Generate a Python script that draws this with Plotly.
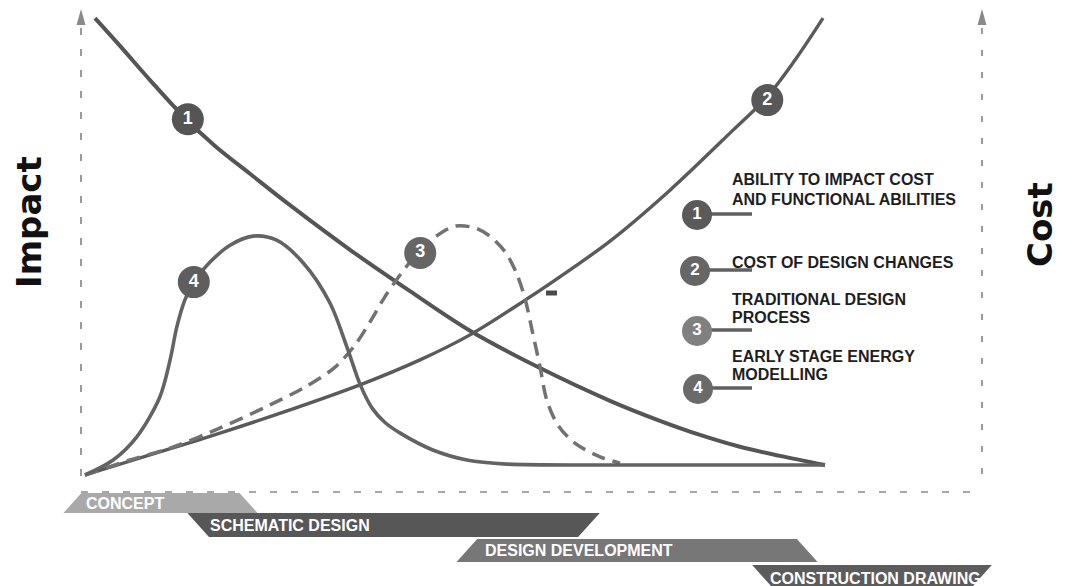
import plotly.graph_objects as go

# ---------------- data (x: project timeline 0-100, y: relative level 0-100) ----------------
x_ability = [1.35, 4.73, 8.78, 13.24, 17.57, 22.30, 27.70, 35.81, 43.92, 52.03, 61.49, 70.95,
             77.70, 83.11, 88.51, 93.92, 100]
y_ability = [100.4, 94.3, 86.8, 78.9, 72.3, 66.2, 59.3, 49.5, 40.4, 31.7, 23.5, 16.3,
             11.9, 8.8, 6.2, 4.2, 2.2]

x_cost = [0, 8.78, 18.24, 27.70, 37.16, 45.27, 52.03, 59.73, 65.54, 70.95, 79.05, 87.57, 92.16, 95.95, 99.73]
y_cost = [0, 4.4, 9.2, 14.3, 19.8, 25.3, 30.8, 38.7, 45.1, 51.4, 62.6, 75.8, 83.1, 91.2, 100.4]

x_trad = [0, 6.1, 11.5, 18.2, 25.0, 29.7, 33.8, 36.5, 38.5, 40.5, 42.6, 45.3, 47.3, 50.0, 52.7,
          54.7, 56.8, 58.4, 59.5, 60.5, 61.5, 62.4, 63.9, 66.2, 69.6, 72.3]
y_trad = [0, 3.3, 5.9, 10.3, 15.4, 19.3, 23.7, 28.6, 33.6, 39.1, 44.0, 49.5, 52.3, 54.7, 54.3,
          52.5, 49.0, 44.0, 38.5, 31.2, 23.7, 16.5, 11.0, 7.0, 4.0, 2.6]

x_early = [0, 3.8, 7.0, 10.1, 11.5, 12.4, 13.5, 14.9, 16.9, 19.6, 22.7, 25.9, 29.5, 33.1, 35.4,
           37.2, 38.8, 40.5, 42.6, 47.0, 51.6, 57.0, 69.6, 83.1, 100]
y_early = [0, 3.3, 8.4, 17.1, 25.3, 32.5, 38.5, 42.9, 46.8, 50.5, 52.5, 51.6, 46.6, 37.8, 28.1,
           19.8, 14.7, 11.6, 9.2, 5.5, 3.3, 2.4, 2.2, 2.2, 2.2]

badge_numbers = ["1", "2", "3", "4"]
badge_x = [13.9, 92.2, 45.3, 14.7]
badge_y = [78.2, 82.4, 48.8, 42.4]

legend_lines = [["ABILITY TO IMPACT COST", "AND FUNCTIONAL ABILITIES"],
                ["COST OF DESIGN CHANGES"],
                ["TRADITIONAL DESIGN", "PROCESS"],
                ["EARLY STAGE ENERGY", "MODELLING"]]

phases = ["CONCEPT", "SCHEMATIC DESIGN", "DESIGN DEVELOPMENT", "CONSTRUCTION DRAWING"]
phase_start = [-1.7, 15.3, 51.6, 91.8]
phase_end = [22.1, 68.1, 97.6, 120.9]

# ---------------- geometry helpers (pixel <-> data) ----------------
W, H = 1068, 586
PX0, SX = 85.0, 7.4     # px of x=0, px per unit
PY0, SY = 475.0, 4.55   # px of y=0, px per unit


def X(px):
    return (px - PX0) / SX


def Y(py):
    return (PY0 - py) / SY


def DX(d):
    return d / SX


fig = go.Figure()

fig.add_trace(go.Scatter(x=x_ability, y=y_ability, mode="lines",
                         line=dict(color="#555555", width=4, shape="spline", smoothing=1.0),
                         hoverinfo="skip"))
fig.add_trace(go.Scatter(x=x_cost, y=y_cost, mode="lines",
                         line=dict(color="#5a5a5a", width=3.4, shape="spline", smoothing=1.0),
                         hoverinfo="skip"))
fig.add_trace(go.Scatter(x=x_trad, y=y_trad, mode="lines",
                         line=dict(color="#727272", width=3.5, dash="14px,8px", shape="spline", smoothing=0.9),
                         hoverinfo="skip"))
fig.add_trace(go.Scatter(x=x_early, y=y_early, mode="lines",
                         line=dict(color="#636363", width=3.6, shape="spline", smoothing=0.9),
                         hoverinfo="skip"))

# badges on the curves
badge_cols = ["#555555", "#585858", "#666666", "#5e5e5e"]
fig.add_trace(go.Scatter(x=badge_x, y=badge_y, mode="markers+text", text=badge_numbers,
                         textposition="middle center",
                         textfont=dict(family="Liberation Sans", size=18, color="white", weight="bold"),
                         marker=dict(size=32, color=badge_cols, line=dict(width=0)),
                         hoverinfo="skip"))

# legend block
leg_cx = [697, 695, 697, 698]
leg_cy = [215, 271, 331, 389]
leg_cols = ["#5a5a5a", "#666666", "#808080", "#6a6a6a"]
leg_text_y = [[179, 199], [262.5], [299, 317.5], [356, 374]]
shapes = []
annotations = []
for i in range(4):
    shapes.append(dict(type="line", xref="x", yref="y", x0=X(leg_cx[i]), x1=X(752),
                       y0=Y(leg_cy[i] - 1), y1=Y(leg_cy[i] - 1),
                       line=dict(color="#606060", width=3.5), layer="below"))
    for j, t in enumerate(legend_lines[i]):
        annotations.append(dict(x=X(730), y=Y(leg_text_y[i][j]), xref="x", yref="y", text=t,
                                showarrow=False, xanchor="left", yanchor="middle",
                                font=dict(family="Liberation Sans", size=16, color="#1e1e1e", weight="bold")))
fig.add_trace(go.Scatter(x=[X(c) for c in leg_cx], y=[Y(c) for c in leg_cy], mode="markers+text",
                         text=badge_numbers, textposition="middle center",
                         textfont=dict(family="Liberation Sans", size=17, color="white", weight="bold"),
                         marker=dict(size=30, color=leg_cols, line=dict(width=0)),
                         hoverinfo="skip"))

# dashed axes with arrow heads
axis_col = "#9a9a9a"
shapes.append(dict(type="line", xref="x", yref="y", x0=X(81), x1=X(81), y0=Y(28), y1=Y(490),
                   line=dict(color=axis_col, width=2, dash="7px,14px"), layer="below"))
shapes.append(dict(type="line", xref="x", yref="y", x0=X(982), x1=X(982), y0=Y(28), y1=Y(490),
                   line=dict(color=axis_col, width=2, dash="6px,16px"), layer="below"))
shapes.append(dict(type="line", xref="x", yref="y", x0=X(81), x1=X(980), y0=Y(492), y1=Y(492),
                   line=dict(color="#a8a8a8", width=2, dash="7px,14px"), layer="below"))
for ax_x in (81, 982):
    shapes.append(dict(type="path", xref="x", yref="y",
                       path=f"M {X(ax_x-4.5)},{Y(25)} L {X(ax_x)},{Y(9)} L {X(ax_x+4.5)},{Y(25)} Z",
                       fillcolor="#8a8a8a", line=dict(width=0), layer="below"))

# small tick mark on cost curve
shapes.append(dict(type="line", xref="x", yref="y", x0=X(546), x1=X(557), y0=Y(293), y1=Y(293),
                   line=dict(color="#4a4a4a", width=5), layer="above"))

# phase bars
rows = [(493, 513), (513, 537), (539, 562), (565, 592)]
phase_cols = ["#a9a9a9", "#575757", "#777777", "#5c5c5c"]
text_pad = [12, 10, 16, 4]
for i, name in enumerate(phases):
    top, bot = rows[i]
    s = DX(0.45 * (bot - top))
    a, b = phase_start[i], phase_end[i]
    if i % 2 == 0:   # wider at bottom
        pts = [(a + s, top), (b - s, top), (b + s, bot), (a - s, bot)]
    else:            # wider at top
        pts = [(a - s, top), (b + s, top), (b - s, bot), (a + s, bot)]
    path = "M " + " L ".join(f"{px},{Y(py)}" for px, py in pts) + " Z"
    shapes.append(dict(type="path", xref="x", yref="y", path=path, fillcolor=phase_cols[i],
                       line=dict(width=0), layer="below"))
    annotations.append(dict(x=a + DX(text_pad[i]), y=Y((top + bot) / 2), xref="x", yref="y",
                            text=name, showarrow=False, xanchor="left", yanchor="middle",
                            font=dict(family="Liberation Sans", size=16, color="white", weight="bold")))

# axis titles
annotations.append(dict(x=X(29), y=Y(222), xref="x", yref="y", text="Impact", textangle=-90,
                        showarrow=False, xanchor="center", yanchor="middle",
                        font=dict(family="DejaVu Sans", size=34, color="#111111", weight="bold")))
annotations.append(dict(x=X(1040), y=Y(225), xref="x", yref="y", text="Cost", textangle=-90,
                        showarrow=False, xanchor="center", yanchor="middle",
                        font=dict(family="DejaVu Sans", size=34, color="#111111", weight="bold")))

fig.update_layout(
    width=W, height=H, margin=dict(l=0, r=0, t=0, b=0),
    paper_bgcolor="white", plot_bgcolor="white", showlegend=False,
    xaxis=dict(range=[X(0), X(W)], visible=False, fixedrange=True),
    yaxis=dict(range=[Y(H), Y(0)], visible=False, fixedrange=True),
    shapes=shapes, annotations=annotations,
)

fig.write_html("out.html", config={"displayModeBar": False},
               post_script="document.body.style.margin='0';document.body.style.overflow='hidden';")
